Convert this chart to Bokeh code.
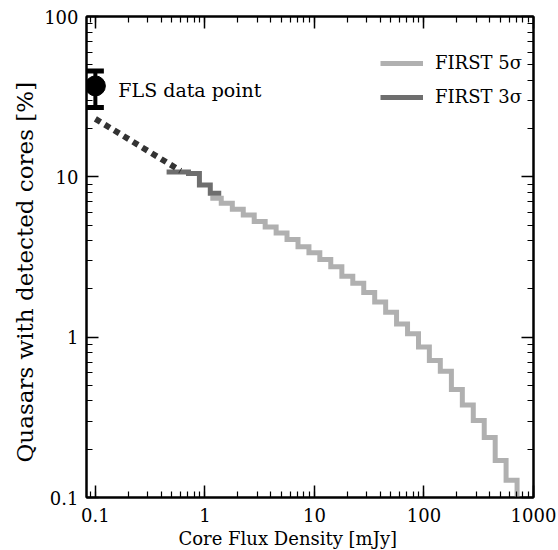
from bokeh.plotting import figure
from bokeh.models import (LogAxis, LogTicker, CustomJSTickFormatter, Whisker, TeeHead,
                          Label, Legend, LegendItem, ColumnDataSource, Title)
from bokeh.embed import file_html
from bokeh.resources import INLINE

# ---- data ----
fls_x = [0.1]
fls_y = [36.9]
fls_lo = [27.1]
fls_hi = [45.7]

extrap_x = [0.1, 0.6]
extrap_y = [23.0, 10.9]

first3_edges = [0.447, 0.562, 0.708, 0.891, 1.12, 1.41]
first3_vals = [10.7, 10.7, 10.5, 8.9, 7.9]

first5_edges = [1.12, 1.41, 1.78, 2.24, 2.82, 3.55, 4.47, 5.62, 7.08, 8.91,
                11.2, 14.1, 17.8, 22.4, 28.2, 35.5, 44.7, 56.2, 70.8, 89.1,
                112, 141, 178, 224, 282, 355, 447, 562, 708, 891]
first5_vals = [7.35, 6.84, 6.28, 5.79, 5.27, 4.86, 4.47, 4.06, 3.66, 3.36,
               3.05, 2.75, 2.40, 2.17, 1.90, 1.66, 1.43, 1.21, 1.05, 0.867,
               0.716, 0.612, 0.472, 0.377, 0.302, 0.237, 0.170, 0.128, 0.08]

x_label = "Core Flux Density [mJy]"
y_label = "Quasars with detected cores [%]"

FONT = "DejaVu Serif"

p = figure(x_axis_type="log", y_axis_type="log",
           x_range=(0.083, 1000), y_range=(0.1, 100),
           frame_width=447, frame_height=481,
           min_border_left=86, min_border_top=16, min_border_right=24, min_border_bottom=53,
           output_backend="svg", toolbar_location=None)
p.xgrid.visible = False
p.ygrid.visible = False
p.outline_line_color = "black"
p.outline_line_width = 2
p.background_fill_color = "white"
p.border_fill_color = "white"

fmt = CustomJSTickFormatter(code="return tick.toString();")
blank = CustomJSTickFormatter(code="return '';")

def style_axis(ax, labels=True):
    ax.ticker = LogTicker(mantissas=[1], desired_num_ticks=5, num_minor_ticks=10)
    ax.axis_line_color = "black"
    ax.axis_line_width = 2
    ax.major_tick_in = 12
    ax.major_tick_out = 0
    ax.minor_tick_in = 6
    ax.minor_tick_out = 0
    ax.major_tick_line_color = "black"
    ax.minor_tick_line_color = "black"
    ax.major_tick_line_width = 1.5
    ax.minor_tick_line_width = 1.2
    ax.major_label_text_font = FONT
    ax.major_label_text_font_size = "18px"
    ax.major_label_text_color = "black"
    if labels:
        ax.formatter = fmt
    else:
        ax.formatter = blank
        ax.major_label_standoff = 0

style_axis(p.xaxis[0])
style_axis(p.yaxis[0])
p.xaxis[0].major_label_standoff = 10
p.yaxis[0].major_label_standoff = 8

top = LogAxis()
right = LogAxis()
style_axis(top, labels=False)
style_axis(right, labels=False)
p.add_layout(top, "above")
p.add_layout(right, "right")

p.add_layout(Title(text=x_label, align="left", offset=92, standoff=2,
                   text_font=FONT, text_font_size="18px", text_font_style="normal",
                   text_color="black"), "below")
p.add_layout(Title(text=y_label, align="left", offset=35, standoff=8,
                   text_font=FONT, text_font_size="23px", text_font_style="normal",
                   text_color="black"), "left")

# step lines
y5 = first5_vals + [first5_vals[-1]]
y3 = first3_vals + [first3_vals[-1]]
r5 = p.step(first5_edges, y5, mode="after", line_color="#b0b0b0", line_width=5)
r3 = p.step(first3_edges, y3, mode="after", line_color="#6e6e6e", line_width=5)
r5.glyph.line_join = "miter"
r3.glyph.line_join = "miter"

# extrapolation
p.line(extrap_x, extrap_y, line_color="#333333", line_width=6, line_dash="6 5")

# FLS point
src = ColumnDataSource(dict(x=fls_x, y=fls_y, lo=fls_lo, hi=fls_hi))
wh = Whisker(base="x", upper="hi", lower="lo", source=src, dimension="height",
             line_color="black", line_width=4,
             upper_head=TeeHead(size=17, line_width=5, line_color="black"),
             lower_head=TeeHead(size=17, line_width=5, line_color="black"))
p.add_layout(wh)
p.scatter("x", "y", source=src, size=20, color="black")

p.add_layout(Label(x=fls_x[0], y=fls_y[0], x_offset=23, y_offset=-4, text="FLS data point",
                   text_font=FONT, text_font_size="19px", text_baseline="middle",
                   text_color="black"))

legend = Legend(items=[LegendItem(label="FIRST 5σ", renderers=[r5]),
                       LegendItem(label="FIRST 3σ", renderers=[r3])],
                location=(294, 390), orientation="vertical",
                glyph_width=43, glyph_height=20, label_height=20, spacing=13,
                label_standoff=12, padding=0, margin=0,
                border_line_color=None, background_fill_alpha=0,
                label_text_font=FONT, label_text_font_size="18px",
                label_text_color="black")
p.add_layout(legend)

open("out.html", "w").write(file_html(p, INLINE))
